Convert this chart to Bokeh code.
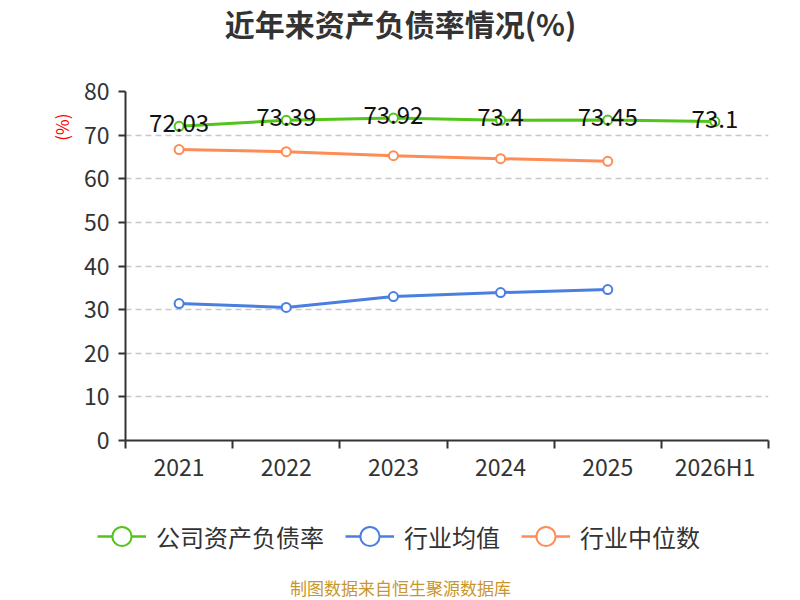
from bokeh.plotting import figure
from bokeh.layouts import column
from bokeh.models import (ColumnDataSource, FixedTicker, Range1d, Legend, LegendItem, Title, Label)
from bokeh.core.properties import value
from bokeh.embed import file_html
from bokeh.resources import INLINE

categories = ["2021", "2022", "2023", "2024", "2025", "2026H1"]
company = [72.03, 73.39, 73.92, 73.4, 73.45, 73.1]
industry_avg = [31.4, 30.5, 33.0, 33.9, 34.6]
industry_median = [66.7, 66.2, 65.3, 64.6, 64.0]
y_ticks = [0, 10, 20, 30, 40, 50, 60, 70, 80]
series_names = ["公司资产负债率", "行业均值", "行业中位数"]

FONT = "Noto Sans CJK SC"
GREEN = "#52c41a"
BLUE = "#4a7fe0"
ORANGE = "#ff8c55"
COLORS = [GREEN, BLUE, ORANGE]

xc = [i + 0.5 for i in range(len(categories))]


def blank_fig(h):
    f = figure(width=800, height=h, output_backend="svg", toolbar_location=None,
               x_range=Range1d(0, 1), y_range=Range1d(0, 1),
               x_axis_type=None, y_axis_type=None, min_border=0, frame_align=False)
    f.outline_line_color = None
    f.xgrid.grid_line_color = None
    f.ygrid.grid_line_color = None
    return f


# --- title strip ---
top = blank_fig(45)
top.add_layout(Label(x=400, y=23, x_units="screen", y_units="screen", text="近年来资产负债率情况(%)",
                     text_align="center", text_baseline="middle", text_font=FONT,
                     text_font_size="30px", text_font_style="bold", text_color="#333333"))

# --- main chart ---
p = figure(width=800, height=455, output_backend="svg", toolbar_location=None,
           x_range=Range1d(0, len(categories)), y_range=Range1d(0, 80), frame_align=False,
           min_border_left=125, min_border_right=32, min_border_top=46, min_border_bottom=60)
p.outline_line_color = None

p.xaxis.ticker = FixedTicker(ticks=xc, minor_ticks=list(range(len(categories) + 1)))
p.xaxis.major_label_overrides = {x: c for x, c in zip(xc, categories)}
p.xaxis.major_tick_line_color = None
p.xaxis.major_tick_out = 0
p.xaxis.major_tick_in = 0
p.xaxis.minor_tick_line_color = "#333333"
p.xaxis.minor_tick_line_width = 2
p.xaxis.minor_tick_out = 8
p.xaxis.minor_tick_in = 0
p.xaxis.axis_line_color = "#333333"
p.xaxis.axis_line_width = 2
p.xaxis.major_label_text_font = FONT
p.xaxis.major_label_text_font_size = "23px"
p.xaxis.major_label_text_color = "#333333"
p.xaxis.major_label_standoff = 0

p.yaxis.ticker = FixedTicker(ticks=y_ticks)
p.yaxis.minor_tick_line_color = None
p.yaxis.major_tick_out = 7
p.yaxis.major_tick_in = 0
p.yaxis.major_tick_line_color = "#333333"
p.yaxis.major_tick_line_width = 2
p.yaxis.axis_line_color = "#333333"
p.yaxis.axis_line_width = 2
p.yaxis.major_label_text_font = FONT
p.yaxis.major_label_text_font_size = "23px"
p.yaxis.major_label_text_color = "#333333"
p.yaxis.major_label_standoff = 9

p.xgrid.grid_line_color = None
p.ygrid.ticker = FixedTicker(ticks=y_ticks[1:])
p.ygrid.grid_line_color = "#c8c8c8"
p.ygrid.grid_line_dash = "6 4"
p.ygrid.grid_line_width = 1.5

src_c = ColumnDataSource(dict(x=xc, y=company, t=[f"{v:g}" for v in company]))
src_a = ColumnDataSource(dict(x=xc[:len(industry_avg)], y=industry_avg))
src_m = ColumnDataSource(dict(x=xc[:len(industry_median)], y=industry_median))
sources = [src_c, src_a, src_m]

for src, col in zip(sources, COLORS):
    p.line("x", "y", source=src, line_color=col, line_width=3)
for src, col in zip(sources, COLORS):
    p.scatter("x", "y", source=src, size=9, fill_color="white", line_color=col, line_width=2)

p.text("x", "y", text="t", source=src_c, text_align="center", text_baseline="middle",
       y_offset=-3, text_font=value(FONT), text_font_size="24px", text_color="#111111")

p.add_layout(Title(text="(%)", align="right", offset=22, standoff=13,
                   text_font=FONT, text_font_size="17px", text_font_style="normal",
                   text_color="#ff0000"), "left")

# --- legend & source strip (legend renderers share the series sources; their
#     points fall outside this strip's range, so only the legend glyphs show) ---
bot = blank_fig(100)
items = []
for name, src, col in zip(series_names, sources, COLORS):
    r_line = bot.line("x", "y", source=src, line_color=col, line_width=2.5)
    r_dot = bot.scatter("x", "y", source=src, fill_color="white", line_color=col, line_width=2)
    items.append(LegendItem(label=name, renderers=[r_line, r_dot]))
legend = Legend(items=items, orientation="horizontal", location=(97, 40))
legend.glyph_width = 49
legend.glyph_height = 48
legend.label_height = 48
legend.label_standoff = 10
legend.spacing = 21
legend.padding = 0
legend.margin = 0
legend.border_line_color = None
legend.background_fill_alpha = 0
legend.label_text_font = FONT
legend.label_text_font_size = "24px"
legend.label_text_color = "#333333"
bot.add_layout(legend, "center")
bot.add_layout(Label(x=400, y=13, x_units="screen", y_units="screen", text="制图数据来自恒生聚源数据库",
                     text_align="center", text_baseline="middle", text_font=FONT,
                     text_font_size="17px", text_color="#c8962e"))

layout = column(top, p, bot, spacing=0)
open("out.html", "w").write(file_html(layout, INLINE))
